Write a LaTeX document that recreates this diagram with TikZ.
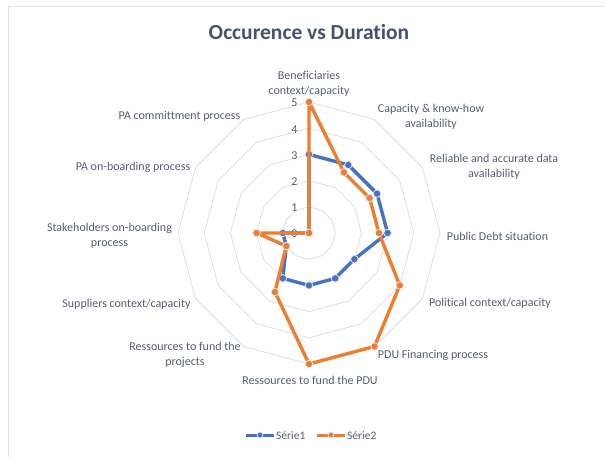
\documentclass[tikz,border=0pt]{standalone}
\usepackage{fontspec}
\setmainfont{Carlito}[Ligatures=NoCommon]
\usetikzlibrary{arrows,positioning}

\definecolor{serieone}{HTML}{4472C4}
\definecolor{serietwo}{HTML}{ED7D31}
\definecolor{gridgray}{HTML}{D9DEE7}
\definecolor{framegray}{HTML}{DDE2EA}
\definecolor{labelgray}{HTML}{535E70}
\definecolor{titlegray}{HTML}{44546A}

\newcommand{\ru}{26.2}

\begin{document}
\begin{tikzpicture}[x=1pt,y=-1pt,font=\fontsize{12}{15}\selectfont]
  \tikzstyle{axislabel}=[text=labelgray,align=center,inner sep=0pt]
  \tikzstyle{ticklabel}=[text=labelgray,inner sep=0pt]
  \tikzstyle{ring}=[draw=gridgray,line width=0.8pt]
  \tikzstyle{serie}=[line width=3.4pt,line join=round]
  \tikzstyle{dot}=[circle,draw=white!80!gray,line width=0.8pt,inner sep=0pt,minimum size=7.5pt]

  \useasboundingbox (0,0) rectangle (605,457);
  \draw[framegray,line width=0.8pt] (8,457) -- (8,6) -- (605,6);

  \node[text=titlegray,font=\fontsize{21.5}{25}\selectfont\bfseries] (title) at (309,32) {Occurence vs Duration};

  \coordinate (O) at (309,233);

  \begin{scope}[shift={(O)}]
    % grid
    \foreach \r in {1,...,5}
      \draw[ring] (-90:\r*\ru) \foreach \a in {-60,-30,...,240} { -- (\a:\r*\ru) } -- cycle;

    % scale
    \foreach \k in {0,...,5}
      \node[ticklabel] (tick\k) at (-14.5,{1-\k*\ru}) {\k};

    % Serie1
    \foreach \v [count=\i from 0] in {3,3,3,3,2,2,2,2,1,1,0,0}
      \coordinate (s1p\i) at (\i*30-90:\v*\ru);
    \draw[serie,serieone] (s1p0) \foreach \i in {1,...,11} { -- (s1p\i) } -- cycle;
    \foreach \i in {0,...,11}
      \node[dot,fill=serieone] (m1\i) at (s1p\i) {};

    % Serie2
    \foreach \v [count=\i from 0] in {5,2.67,2.67,2.67,4,5,5,2.6,1,2,0,0}
      \coordinate (s2p\i) at (\i*30-90:\v*\ru);
    \draw[serie,serietwo] (s2p0) \foreach \i in {1,...,11} { -- (s2p\i) } -- cycle;
    \foreach \i in {0,...,11}
      \node[dot,fill=serietwo] (m2\i) at (s2p\i) {};
  \end{scope}

  % axis labels
  \node[axislabel] (benef)   at (309,84)    {Beneficiaries\\context/capacity};
  \node[axislabel] (knowhow) at (431,116.5) {Capacity \& know-how\\availability};
  \node[axislabel] (data)    at (494,166.5) {Reliable and accurate data\\availability};
  \node[axislabel] (debt)    at (497.5,236) {Public Debt situation};
  \node[axislabel] (polit)   at (490,303)   {Political context/capacity};
  \node[axislabel] (pdufin)  at (433,355)   {PDU Financing process};
  \node[axislabel] (respdu)  at (310,380)   {Ressources to fund the PDU};
  \node[axislabel] (resproj) at (185,354.5) {Ressources to fund the\\projects};
  \node[axislabel] (suppl)   at (126.5,304) {Suppliers context/capacity};
  \node[axislabel] (stake)   at (109.5,235.5) {Stakeholders on-boarding\\process};
  \node[axislabel] (paboard) at (133,167)   {PA on-boarding process};
  \node[axislabel] (pacommit) at (179.5,116) {PA committment process};

  % legend
  \coordinate (l1a) at (246,435);
  \coordinate (l1b) at (274,435);
  \draw[serie,serieone,line width=3pt] (l1a) -- (l1b);
  \node[dot,fill=serieone,minimum size=6pt] (l1dot) at (260,435) {};
  \node[ticklabel,anchor=west,font=\fontsize{11.5}{13}\selectfont] (l1txt) at (276,435.5) {Série1};
  \coordinate (l2a) at (317,435);
  \coordinate (l2b) at (345,435);
  \draw[serie,serietwo,line width=3pt] (l2a) -- (l2b);
  \node[dot,fill=serietwo,minimum size=6pt] (l2dot) at (331,435) {};
  \node[ticklabel,anchor=west,font=\fontsize{11.5}{13}\selectfont] (l2txt) at (347,435.5) {Série2};
\end{tikzpicture}
\end{document}
